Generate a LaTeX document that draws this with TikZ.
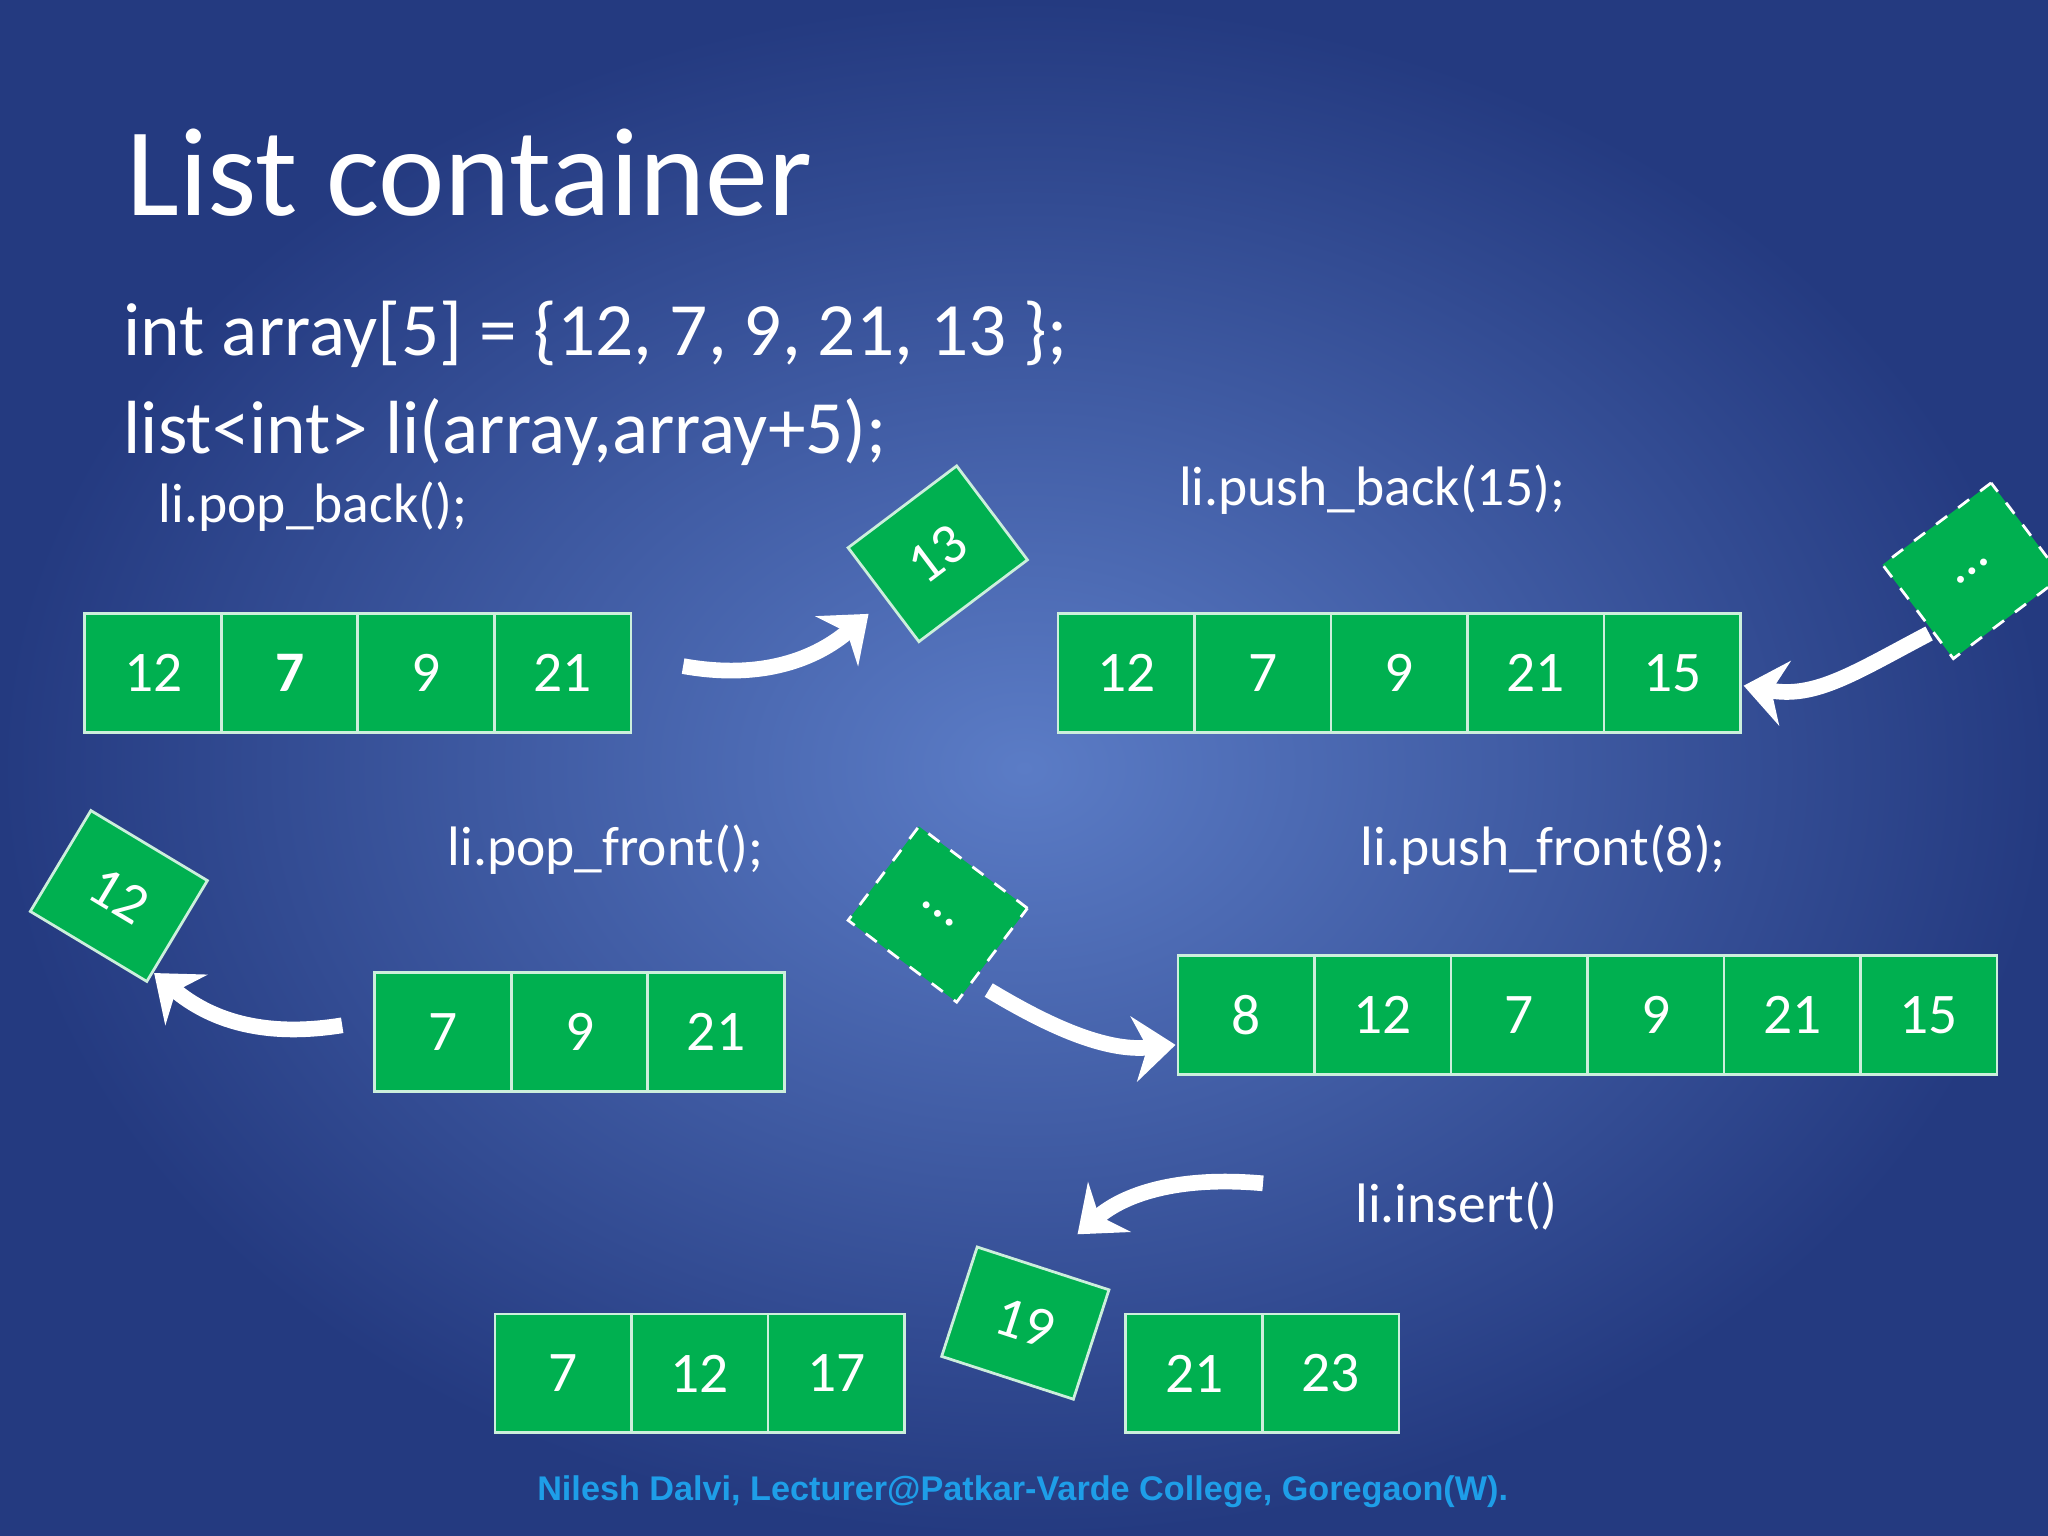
\documentclass[tikz,border=0pt]{standalone}
\usepackage{fontspec}
\setmainfont{Carlito}
\newfontfamily\footfont{Liberation Sans}
\usetikzlibrary{arrows.meta,shapes.geometric}
\definecolor{cellgreen}{HTML}{00B050}
\definecolor{bgc}{HTML}{5B7CC6}
\definecolor{bge}{HTML}{243A80}
\definecolor{footc}{HTML}{1E9EE8}
\tikzset{
 cell/.style={draw=white!80!cellgreen,fill=cellgreen,line width=0.6pt,minimum width=1.045cm,minimum height=0.91cm,inner sep=0pt,text=white,font=\fontsize{12.5}{12.5}\selectfont},
 tilt/.style={draw=white!80!cellgreen,fill=cellgreen,line width=0.6pt,minimum width=1.04cm,minimum height=0.9cm,inner sep=0pt,text=white,font=\fontsize{12.5}{12.5}\selectfont},
 dtilt/.style={tilt,dashed,draw=white},
 lbl/.style={anchor=base west,text=white,inner sep=0pt},
 warr/.style={draw=white,line width=1.2mm,-{Stealth[length=3.2mm,width=5mm]}},
}
\begin{document}
\begin{tikzpicture}[x=0.01cm,y=-0.01cm]
\useasboundingbox (0,0) rectangle (1568,1176);
\shade[inner color=bgc,outer color=bge] (0,0) rectangle (1568,1176);
\node[lbl,font=\fontsize{27.4}{27.4}\selectfont] (title) at (96,165) {List container};
\node[lbl,font=\fontsize{16.4}{16.4}\selectfont] (l1) at (94,272) {int array[5] = \{12, 7, 9, 21, 13 \};};
\node[lbl,font=\fontsize{16.4}{16.4}\selectfont] (l2) at (94,347) {list<int> li(array,array+5);};
\node[lbl,font=\fontsize{12.1}{12.1}\selectfont] (t1) at (121,400) {li.pop\_back();};
\node[lbl,font=\fontsize{12.1}{12.1}\selectfont] (t2) at (902,387) {li.push\_back(15);};
\node[lbl,font=\fontsize{12.1}{12.1}\selectfont] (t3) at (342,663) {li.pop\_front();};
\node[lbl,font=\fontsize{12.1}{12.1}\selectfont] (t4) at (1041,663) {li.push\_front(8);};
\node[lbl,font=\fontsize{12.1}{12.1}\selectfont] (t5) at (1037,936) {li.insert()};
\foreach \v [count=\i] in {12,\textbf{7},9,21}
  \node[cell] (a\i) at ({65+52.25+104.5*(\i-1)},515.5) {\v};
\foreach \v [count=\i] in {12,7,9,21,15}
  \node[cell] (b\i) at ({810+52.25+104.5*(\i-1)},515.5) {\v};
\foreach \v [count=\i] in {7,9,21}
  \node[cell] (c\i) at ({287+52.25+104.5*(\i-1)},790) {\v};
\foreach \v [count=\i] in {8,12,7,9,21,15}
  \node[cell] (d\i) at ({902+52.25+104.5*(\i-1)},777) {\v};
\foreach \v [count=\i] in {7,12,17}
  \node[cell] (e\i) at ({379+52.25+104.5*(\i-1)},1051.5) {\v};
\foreach \v [count=\i] in {21,23}
  \node[cell] (f\i) at ({862+52.25+104.5*(\i-1)},1051.5) {\v};
\node[tilt,rotate=37] (r13) at (718,424) {13};
\node[dtilt,rotate=37] (rd1) at (1510,437) {\dots};
\node[tilt,rotate=-31] (r12) at (91,686) {12};
\node[dtilt,rotate=-37] (rd2) at (718,700) {\dots};
\node[tilt,rotate=-18,minimum width=1.06cm,minimum height=0.88cm] (r19) at (785,1013) {19};
\coordinate (p1) at (523,510); \coordinate (q1) at (665,470);
\draw[warr] (p1) .. controls (590,522) and (630,500) .. (q1);
\coordinate (p2) at (1477,485); \coordinate (q2) at (1335,525);
\draw[warr] (p2) .. controls (1420,515) and (1390,535) .. (q2);
\coordinate (p3) at (262,785); \coordinate (q3) at (118,745);
\draw[warr] (p3) .. controls (200,795) and (160,780) .. (q3);
\coordinate (p4) at (757,758); \coordinate (q4) at (900,800);
\draw[warr] (p4) .. controls (810,790) and (850,805) .. (q4);
\coordinate (p5) at (967,906); \coordinate (q5) at (825,945);
\draw[warr] (p5) .. controls (900,900) and (860,915) .. (q5);
\node[anchor=base,text=footc,font=\footfont\bfseries\fontsize{7.45}{7.45}\selectfont,inner sep=0pt] (foot) at (783,1149) {Nilesh Dalvi, Lecturer@Patkar-Varde College, Goregaon(W).};
\end{tikzpicture}
\end{document}
